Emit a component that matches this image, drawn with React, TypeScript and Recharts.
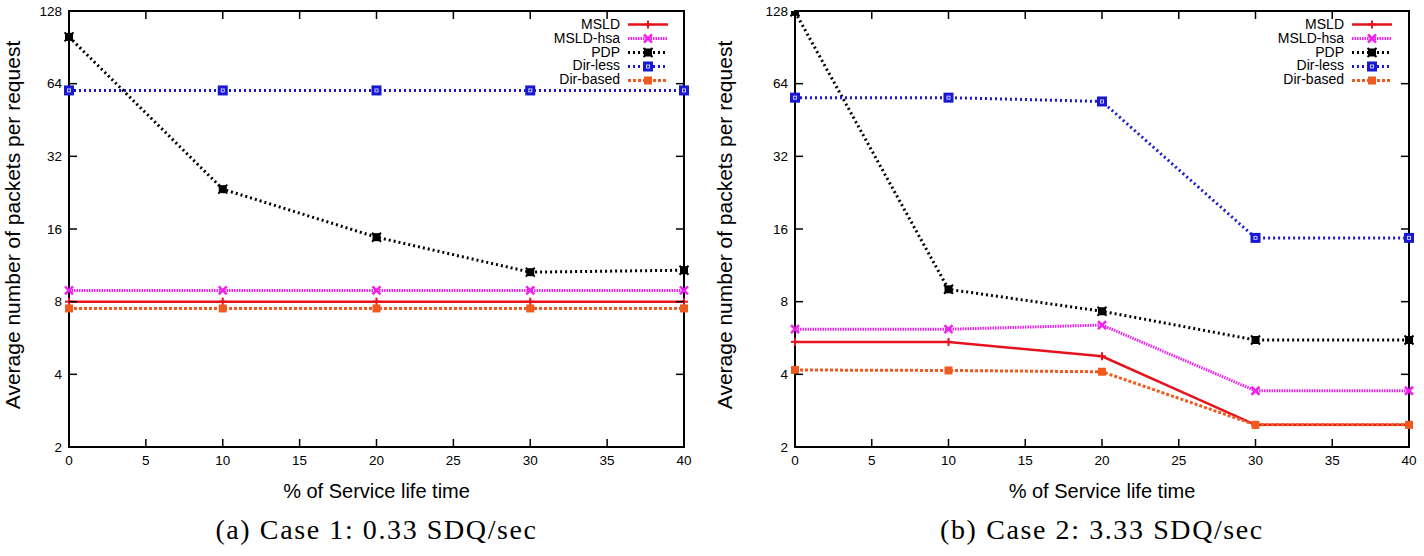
import React from "react";
import {
  Legend,
  Line,
  LineChart,
  ReferenceArea,
  XAxis,
  YAxis,
} from "recharts";

const X_VALUES = [0, 10, 20, 30, 40];
const X_TICKS = [0, 5, 10, 15, 20, 25, 30, 35, 40];
const Y_TICKS = [2, 4, 8, 16, 32, 64, 128];

// Case 1: 0.33 SDQ/sec
const C1_MSLD = [8, 8, 8, 8, 8];
const C1_HSA = [8.9, 8.9, 8.9, 8.9, 8.9];
const C1_PDP = [100, 23.4, 14.8, 10.6, 10.8];
const C1_DIRLESS = [60, 60, 60, 60, 60];
const C1_DIRBASED = [7.5, 7.5, 7.5, 7.5, 7.5];

// Case 2: 3.33 SDQ/sec
const C2_MSLD = [5.45, 5.45, 4.75, 2.47, 2.47];
const C2_HSA = [6.15, 6.15, 6.4, 3.42, 3.42];
const C2_PDP = [127, 9.0, 7.3, 5.55, 5.55];
const C2_DIRLESS = [56, 56, 54, 14.7, 14.7];
const C2_DIRBASED = [4.17, 4.15, 4.1, 2.47, 2.47];

const SERIES = [
  { key: "msld", name: "MSLD", color: "#e5131d", width: 2.5, dash: undefined, marker: "plus" },
  { key: "hsa", name: "MSLD-hsa", color: "#f020f0", width: 3, dash: "1.5 1", marker: "cross" },
  { key: "pdp", name: "PDP", color: "#000000", width: 3, dash: "2 3", marker: "star" },
  { key: "dirless", name: "Dir-less", color: "#1818d2", width: 3, dash: "2 3", marker: "box" },
  { key: "dirbased", name: "Dir-based", color: "#f05a1e", width: 3, dash: "3 2", marker: "fbox" },
];

const SANS = "'Liberation Sans', Arial, sans-serif";

const CHART_W = 712;
const CHART_H = 470;
const PLOT_TOP = 11;
const PLOT_BOTTOM = 447;

function buildRows(msld: number[], hsa: number[], pdp: number[], dirless: number[], dirbased: number[]) {
  return X_VALUES.map((x, i) => ({
    x,
    msld: msld[i],
    hsa: hsa[i],
    pdp: pdp[i],
    dirless: dirless[i],
    dirbased: dirbased[i],
  }));
}

function Marker({ type, color, cx, cy }: { type: string; color: string; cx: number; cy: number }) {
  if (type === "plus") {
    return (
      <g stroke={color} strokeWidth={2}>
        <line x1={cx - 4} y1={cy} x2={cx + 4} y2={cy} />
        <line x1={cx} y1={cy - 4} x2={cx} y2={cy + 4} />
      </g>
    );
  }
  if (type === "cross") {
    return (
      <g stroke={color} strokeWidth={2.5}>
        <line x1={cx - 4} y1={cy - 4} x2={cx + 4} y2={cy + 4} />
        <line x1={cx - 4} y1={cy + 4} x2={cx + 4} y2={cy - 4} />
      </g>
    );
  }
  if (type === "star") {
    return (
      <g stroke={color} strokeWidth={2} fill={color}>
        <rect x={cx - 3} y={cy - 3} width={6} height={6} />
        <line x1={cx - 4.5} y1={cy - 4.5} x2={cx + 4.5} y2={cy + 4.5} />
        <line x1={cx - 4.5} y1={cy + 4.5} x2={cx + 4.5} y2={cy - 4.5} />
      </g>
    );
  }
  if (type === "box") {
    return (
      <g>
        <rect x={cx - 5} y={cy - 5} width={10} height={10} fill={color} />
        <rect x={cx - 1.5} y={cy - 1.5} width={3} height={3} fill="none" stroke="#c8c8ff" strokeWidth={1} />
      </g>
    );
  }
  return <rect x={cx - 4} y={cy - 4} width={8} height={8} fill={color} />;
}

function LegendBox() {
  return (
    <div style={{ width: 220, fontFamily: SANS, fontSize: 14, color: "#000" }}>
      {SERIES.map((s) => (
        <div
          key={s.key}
          style={{ display: "flex", justifyContent: "flex-end", alignItems: "center", height: 13.8, lineHeight: "13.8px" }}
        >
          <span>{s.name}</span>
          <svg width={44} height={13} style={{ marginLeft: 6 }}>
            <line
              x1={2}
              y1={6.5}
              x2={42}
              y2={6.5}
              stroke={s.color}
              strokeWidth={s.width}
              strokeDasharray={s.dash}
            />
            <Marker type={s.marker} color={s.color} cx={22} cy={6.5} />
          </svg>
        </div>
      ))}
    </div>
  );
}

interface PanelProps {
  rows: ReturnType<typeof buildRows>;
  marginLeft: number;
  marginRight: number;
  legendLeft: number;
  caption: string;
  left: number;
}

function Panel({ rows, marginLeft, marginRight, legendLeft, caption, left }: PanelProps) {
  const plotLeft = marginLeft;
  const plotRight = CHART_W - marginRight;
  const plotMid = (plotLeft + plotRight) / 2;

  const xTick = (props: any) => {
    const { x, y, payload } = props;
    return (
      <g>
        <line x1={x} y1={PLOT_BOTTOM} x2={x} y2={PLOT_BOTTOM - 8} stroke="#000" strokeWidth={1.5} />
        <line x1={x} y1={PLOT_TOP} x2={x} y2={PLOT_TOP + 8} stroke="#000" strokeWidth={1.5} />
        <text x={x} y={y} dy="0.71em" textAnchor="middle" fontFamily={SANS} fontSize={13.5} fill="#000">
          {payload.value}
        </text>
      </g>
    );
  };

  const yTick = (props: any) => {
    const { x, y, payload } = props;
    return (
      <g>
        <line x1={plotLeft} y1={y} x2={plotLeft + 8} y2={y} stroke="#000" strokeWidth={1.5} />
        <line x1={plotRight - 8} y1={y} x2={plotRight} y2={y} stroke="#000" strokeWidth={1.5} />
        <text x={x} y={y} dy="0.35em" textAnchor="end" fontFamily={SANS} fontSize={13.5} fill="#000">
          {payload.value}
        </text>
      </g>
    );
  };

  return (
    <div style={{ position: "absolute", left, top: 0, width: CHART_W, height: 556 }}>
      <LineChart
        width={CHART_W}
        height={CHART_H}
        data={rows}
        margin={{ top: PLOT_TOP, right: marginRight, left: 0, bottom: CHART_H - PLOT_BOTTOM - 20 }}
      >
        <XAxis
          dataKey="x"
          type="number"
          domain={[0, 40]}
          ticks={X_TICKS}
          tickSize={0}
          tickMargin={8}
          tick={xTick}
          tickLine={false}
          axisLine={false}
          height={20}
          interval={0}
        />
        <YAxis
          type="number"
          scale="log"
          domain={[2, 128]}
          ticks={Y_TICKS}
          allowDataOverflow
          width={marginLeft}
          tickSize={0}
          tickMargin={7}
          tick={yTick}
          tickLine={false}
          axisLine={false}
          interval={0}
        />
        <ReferenceArea
          x1={0}
          x2={40}
          y1={2}
          y2={128}
          fill="none"
          stroke="#000"
          strokeWidth={2}
          ifOverflow="visible"
        />
        <Legend
          layout="vertical"
          align="center"
          verticalAlign="middle"
          content={() => <LegendBox />}
          wrapperStyle={{ top: 18, left: legendLeft, width: 220 }}
        />
        {SERIES.map((s) => (
          <Line
            key={s.key}
            dataKey={s.key}
            name={s.name}
            stroke={s.color}
            strokeWidth={s.width}
            strokeDasharray={s.dash}
            isAnimationActive={false}
            dot={(p: any) => (
              <g key={`${s.key}-${p.index}`}>
                <Marker type={s.marker} color={s.color} cx={p.cx} cy={p.cy} />
              </g>
            )}
            activeDot={false}
          />
        ))}
      </LineChart>
      <div
        style={{
          position: "absolute",
          left: 0,
          top: 225,
          width: 0,
          height: 0,
        }}
      >
        <div
          style={{
            position: "absolute",
            transform: "translate(-50%, -50%) rotate(-90deg)",
            left: 13,
            top: 0,
            whiteSpace: "nowrap",
            fontFamily: SANS,
            fontSize: 21,
            lineHeight: "24px",
          }}
        >
          Average number of packets per request
        </div>
      </div>
      <div
        style={{
          position: "absolute",
          left: plotMid - 150,
          width: 300,
          top: 479,
          textAlign: "center",
          fontFamily: SANS,
          fontSize: 20,
          lineHeight: "24px",
        }}
      >
        % of Service life time
      </div>
      <div
        style={{
          position: "absolute",
          left: plotMid - 250,
          width: 500,
          top: 513,
          textAlign: "center",
          fontFamily: "'Liberation Serif', 'DejaVu Serif', serif",
          fontSize: 28,
          letterSpacing: 1.6,
          lineHeight: "34px",
        }}
      >
        {caption}
      </div>
    </div>
  );
}

export default function App() {
  const rows1 = buildRows(C1_MSLD, C1_HSA, C1_PDP, C1_DIRLESS, C1_DIRBASED);
  const rows2 = buildRows(C2_MSLD, C2_HSA, C2_PDP, C2_DIRLESS, C2_DIRBASED);
  return (
    <div style={{ position: "absolute", left: 0, top: 0, width: 1424, height: 556, background: "#fff", overflow: "hidden" }}>
      <Panel rows={rows1} marginLeft={69} marginRight={28} legendLeft={450} caption="(a) Case 1: 0.33 SDQ/sec" left={0} />
      <Panel rows={rows2} marginLeft={83} marginRight={15} legendLeft={462} caption="(b) Case 2: 3.33 SDQ/sec" left={712} />
    </div>
  );
}
